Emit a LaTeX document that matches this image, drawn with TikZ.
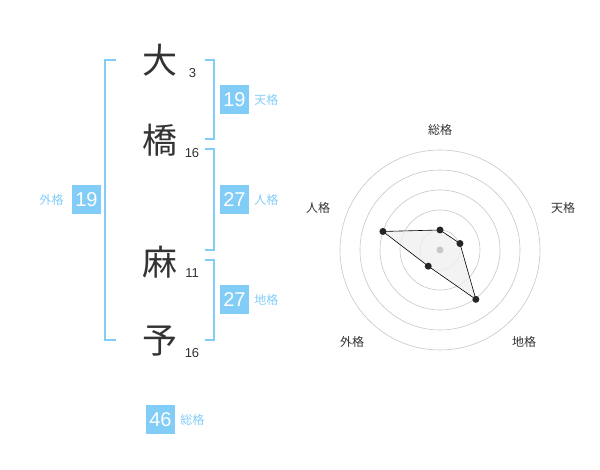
\documentclass[tikz,border=0pt]{standalone}
\usepackage{fontspec}
\setmainfont{Liberation Sans}
\newfontfamily\jpfont{Noto Sans CJK JP}
\usetikzlibrary{positioning}
\definecolor{kakublue}{HTML}{82CDF8}
\definecolor{inkgray}{HTML}{333333}
\begin{document}
\begin{tikzpicture}[x=1pt,y=-1pt,
    kanji/.style={font=\jpfont\fontsize{35}{35}\selectfont, text=inkgray, inner sep=0pt},
    strokes/.style={font=\fontsize{13}{13}\selectfont, text=inkgray, inner sep=0pt},
    kakubox/.style={fill=kakublue, text=white, minimum size=29pt, inner sep=0pt, font=\fontsize{20}{20}\selectfont},
    kakulabel/.style={font=\jpfont\fontsize{12}{12}\selectfont, text=kakublue, inner sep=0pt},
    bracket/.style={draw=kakublue, line width=1.6pt},
    ring/.style={draw=black!22, line width=0.6pt},
    axislabel/.style={font=\jpfont\fontsize{12}{12}\selectfont, text=inkgray, inner sep=0pt},
    dot/.style={circle, fill=black!85, inner sep=0pt, minimum size=7pt}]
  \useasboundingbox (0,0) rectangle (600,470);
  % name, one character per line
  \node[kanji] (k1) at (160,60) {大};
  \node[kanji] (k2) at (160,140) {橋};
  \node[kanji] (k3) at (160,262) {麻};
  \node[kanji] (k4) at (160,341) {予};
  \node[strokes] (s1) at (192.5,73) {3};
  \node[strokes] (s2) at (192,153) {16};
  \node[strokes] (s3) at (192,273) {11};
  \node[strokes] (s4) at (192,353) {16};
  % brackets
  \draw[bracket] (116,60) -| (105,340) -- (116,340);
  \draw[bracket] (205,60) -| (214,139) -- (205,139);
  \draw[bracket] (205,149) -| (214,250) -- (205,250);
  \draw[bracket] (205,260) -| (214,340) -- (205,340);
  % scores
  \node[kakubox] (ten) at (234.5,100) {19};
  \node[kakulabel, right=5pt of ten] {天格};
  \node[kakubox] (jin) at (234.5,200) {27};
  \node[kakulabel, right=5pt of jin] {人格};
  \node[kakubox] (chi) at (234.5,300) {27};
  \node[kakulabel, right=5pt of chi] {地格};
  \node[kakubox] (gai) at (86.5,200) {19};
  \node[kakulabel, left=8pt of gai] {外格};
  \node[kakubox] (sou) at (160.5,419.5) {46};
  \node[kakulabel, right=5pt of sou] {総格};
  % radar
  \begin{scope}[shift={(440,250)}]
    \coordinate (c) at (0,0);
    \foreach \r in {20,40,...,100}
      \draw[ring] (c) circle (\r pt);
    \coordinate (rsou) at (-90:20);
    \coordinate (rten) at (-18:21);
    \coordinate (rchi) at (54:61);
    \coordinate (rgai) at (126:20);
    \coordinate (rjin) at (198:60);
    \draw[fill=black!6, fill opacity=0.8, line width=0.6pt] (rsou) -- (rten) -- (rchi) -- (rgai) -- (rjin) -- cycle;
    \fill[black!22] (c) circle (3.5pt);
    \foreach \p in {rsou,rten,rchi,rgai,rjin}
      \node[dot] at (\p) {};
    \node[axislabel] (lsou) at (0,-120) {総格};
    \node[axislabel] (lten) at (123,-42) {天格};
    \node[axislabel] (lchi) at (84,92) {地格};
    \node[axislabel] (lgai) at (-88,92) {外格};
    \node[axislabel] (ljin) at (-122,-42) {人格};
  \end{scope}
\end{tikzpicture}
\end{document}
